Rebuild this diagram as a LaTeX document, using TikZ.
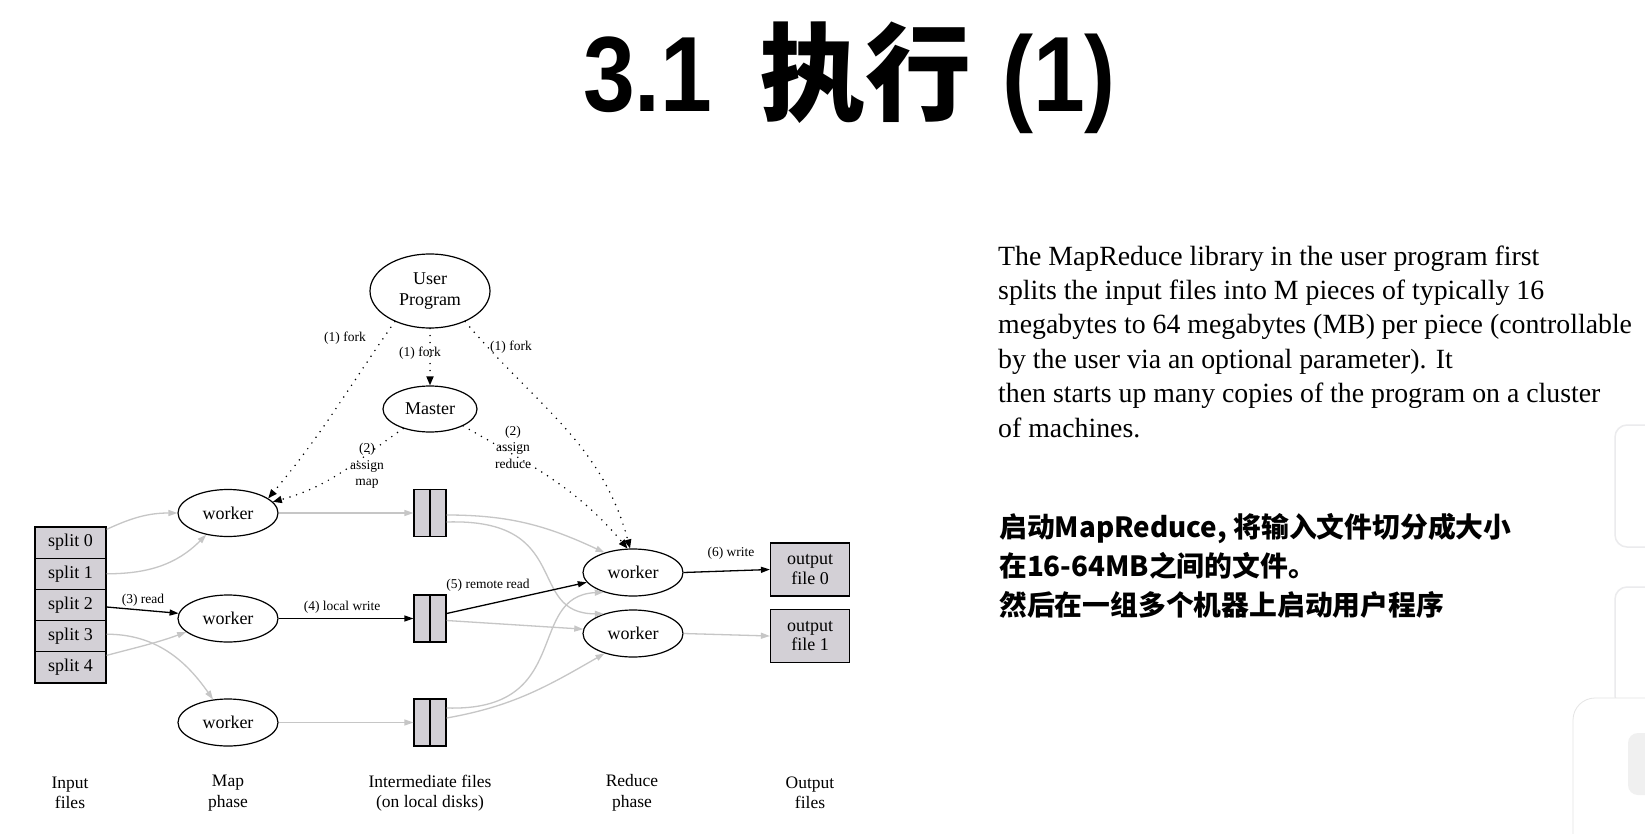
\documentclass[tikz,border=0pt]{standalone}
\usepackage{fontspec}
\usepackage{xcolor}
\setmainfont{Liberation Serif}
\newfontfamily\paperfont{Liberation Serif}
\newfontfamily\headfont[FakeStretch=0.87]{Liberation Sans}
\newfontfamily\cjkfont{Noto Sans CJK SC}
\usetikzlibrary{shapes.geometric, arrows.meta, shadows, positioning, calc}

\definecolor{splitgray}{HTML}{D3D0D6}
\definecolor{flowgray}{HTML}{C6C6C6}
\definecolor{panelgray}{HTML}{EBEBED}

\tikzset{
  machine/.style={ellipse, draw, line width=1.2pt, minimum width=100pt, minimum height=47pt, inner sep=0pt, font=\fontsize{18}{20}\selectfont},
  chunk/.style={rectangle, draw, line width=1.2pt, fill=splitgray, minimum width=71pt, minimum height=31.2pt, inner sep=0pt, font=\fontsize{18}{20}\selectfont},
  diskfile/.style={rectangle, draw, line width=1.2pt, fill=splitgray, minimum width=32pt, minimum height=47pt, inner sep=0pt},
  outfile/.style={chunk, minimum width=79pt, minimum height=53pt, align=center, font=\fontsize{18}{19.5}\selectfont},
  flow/.style={line width=1.3pt, draw=flowgray, -{Triangle[length=9pt,width=6pt]}},
  hotflow/.style={line width=1.3pt, draw=black, -{Triangle[length=9pt,width=6pt]}},
  control/.style={line width=1.7pt, line cap=round, dash pattern=on 0pt off 7pt, -{Triangle[length=9pt,width=7pt]}},
  edgelbl/.style={font=\fontsize{13.5}{16.5}\selectfont, inner sep=0pt, align=center},
  phaselbl/.style={font=\fontsize{17.5}{20.5}\selectfont, inner sep=0pt, align=center}
}

\begin{document}
\begin{tikzpicture}[x=1pt, y=1pt]
% --- FUNDO E LIMITES DA PAGINA ---
\fill[white] (0,0) rectangle (1645,-834);
\useasboundingbox (0,0) rectangle (1645,-834);

% LAYER 1: Titulo
\node[anchor=base west, inner sep=0pt, font=\headfont\bfseries\fontsize{107}{110}\selectfont] (ttlNum) at (583,-112) {3.1};
\node[inner sep=0pt, font=\cjkfont\bfseries\fontsize{106}{110}\selectfont] (ttlCjk) at (865,-72.5) {执行};
\node[anchor=base east, inner sep=0pt, font=\headfont\bfseries\fontsize{107}{110}\selectfont] (ttlPar) at (1116,-112) {(1)};

% LAYER 2: Textos a direita (ancora na linha de base da ultima linha)
\node[anchor=base west, inner sep=0pt, align=left, font=\paperfont\fontsize{27.8}{34.4}\selectfont] (para) at (998,-437) {The MapReduce library in the user program first\\
splits the input files into M pieces of typically 16\\
megabytes to 64 megabytes (MB) per piece (controllable\\
by the user via an optional parameter). It\\
then starts up many copies of the program on a cluster\\
of machines.};
\node[anchor=base west, inner sep=0pt, align=left, font=\cjkfont\bfseries\fontsize{27.8}{39}\selectfont] (note) at (999,-615) {启动MapReduce, 将输入文件切分成大小\\
在16-64MB之间的文件。\\
然后在一组多个机器上启动用户程序};

% LAYER 3: Paineis cortados na borda
\draw[panelgray, line width=1.5pt, rounded corners=12pt] (1615,-425) rectangle (1720,-547);
\draw[panelgray, line width=1.5pt, rounded corners=12pt] (1615,-587) rectangle (1720,-708);
\fill[white, draw=gray!20, line width=0.8pt, drop shadow={opacity=0.35, shadow xshift=0pt, shadow yshift=-3pt}, rounded corners=22pt] (1573,-698) rectangle (1720,-870);
\fill[gray!12, rounded corners=10pt] (1628,-733) rectangle (1690,-795);

% LAYER 4: Nos do diagrama
\node[machine, minimum width=120pt, minimum height=74pt, align=center, font=\fontsize{18}{20.5}\selectfont] (up) at (430,-291) {User\\Program};
\node[machine, minimum width=94pt, minimum height=46pt] (mst) at (430,-409) {Master};

\node[chunk] (s0) at (70.5,-542.6) {split 0};
\node[chunk] (s1) at (70.5,-573.8) {split 1};
\node[chunk] (s2) at (70.5,-605.0) {split 2};
\node[chunk] (s3) at (70.5,-636.2) {split 3};
\node[chunk] (s4) at (70.5,-667.4) {split 4};

\node[machine] (mapA) at (228,-513) {worker};
\node[machine] (mapB) at (228,-618.5) {worker};
\node[machine] (mapC) at (228,-722.5) {worker};

\node[diskfile] (midA) at (430,-513) {};
\node[diskfile] (midB) at (430,-618.5) {};
\node[diskfile] (midC) at (430,-722.5) {};
\draw[line width=1.2pt] (midA.north) -- (midA.south);
\draw[line width=1.2pt] (midB.north) -- (midB.south);
\draw[line width=1.2pt] (midC.north) -- (midC.south);

\node[machine] (redA) at (633,-572.5) {worker};
\node[machine] (redB) at (633,-633.5) {worker};

\node[outfile] (outA) at (810,-569.5) {output\\file 0};
\node[outfile] (outB) at (810,-636) {output\\file 1};

% LAYER 5: Fluxo de dados
\draw[flow] ([yshift=-3pt]s0.north east) to[out=25,in=180] (mapA.west);
\draw[flow] (s1.east) to[out=0,in=225] (mapA.-135);
\draw[hotflow] ([yshift=-2pt]s2.east) -- (mapB.174);
\draw[flow] ([yshift=2pt]s3.east) to[out=0,in=125] (mapC.123);
\draw[flow] ([yshift=12pt]s4.east) to[out=15,in=200] (mapB.198);

\draw[flow] (mapA.east) -- (midA.west);
\draw[hotflow] (mapB.east) -- (midB.west);
\draw[flow] (mapC.east) -- (midC.west);

\draw[flow] ([yshift=-2pt]midA.east) to[out=0,in=155] (redA.145);
\draw[flow] ([yshift=-9pt]midA.east) .. controls +(128,4) and +(-79,0) .. (redB.146);
\draw[hotflow] ([yshift=5pt]midB.east) -- (redA.192);
\draw[flow] ([yshift=-2pt]midB.east) -- (redB.175);
\draw[flow] ([yshift=14.5pt]midC.east) .. controls +(128,-4) and +(-79,-4) .. (redA.214);
\draw[flow] ([yshift=4.5pt]midC.east) to[out=10,in=210] (redB.215);

\draw[hotflow] (redA.east) -- (outA.west);
\draw[flow] (redB.east) -- (outB.west);

% LAYER 6: Controle (fork e assign)
\draw[control] (up.south) -- (mst.north);
\draw[control] (up.221) to[out=235,in=50] (mapA.20);
\draw[control] (up.319) to[out=-50,in=105] (redA.97);
\draw[control] (mst.216) to[out=215,in=15] (mapA.14);
\draw[control] (mst.333) to[out=-30,in=130] (redA.103);

% LAYER 7: Rotulos
\node[edgelbl] (lblForkL) at (345,-338) {(1) fork};
\node[edgelbl] (lblForkM) at (420,-353) {(1) fork};
\node[edgelbl] (lblForkR) at (511,-347) {(1) fork};
\node[edgelbl] (lblMap) at (367,-466) {(2)\\assign\\map};
\node[edgelbl] (lblReduce) at (513,-447) {(2)\\assign\\reduce};
\node[edgelbl] (lblRead) at (143,-600) {(3) read};
\node[edgelbl] (lblLocal) at (342,-607) {(4) local write};
\node[edgelbl] (lblRemote) at (488,-585) {(5) remote read};
\node[edgelbl] (lblWrite) at (731,-553) {(6) write};

\node[phaselbl] (phIn) at (70,-793) {Input\\files};
\node[phaselbl] (phMap) at (228,-793) {Map\\phase};
\node[phaselbl] (phMid) at (430,-793) {Intermediate files\\(on local disks)};
\node[phaselbl] (phRed) at (632,-793) {Reduce\\phase};
\node[phaselbl] (phOut) at (810,-793) {Output\\files};
\end{tikzpicture}
\end{document}
